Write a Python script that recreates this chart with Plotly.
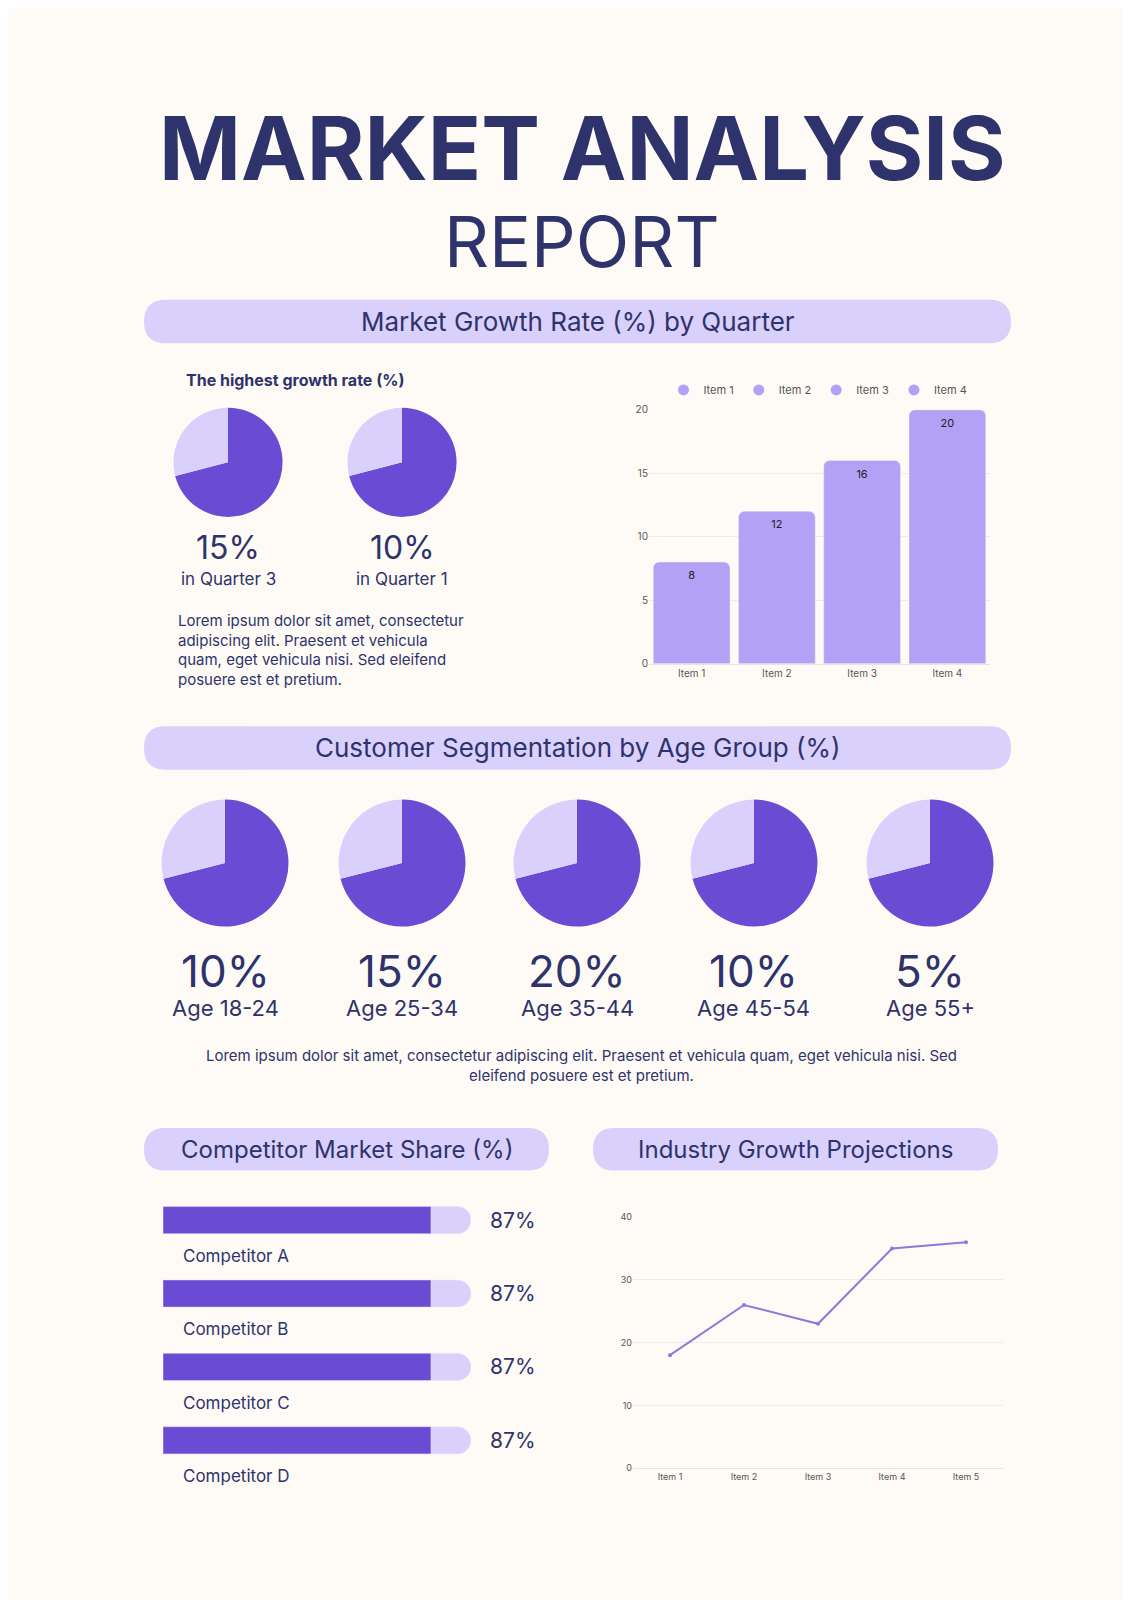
import plotly.graph_objects as go

W, H = 1131, 1600
NAVY = "#2f336b"; DARK = "#6a4bd3"; LIGHT = "#d9d0fc"; BARC = "#b3a1f5"; LINEC = "#8f78da"; BG = "#fefbf6"
FONT = "Inter"

# data
growth_pct = ["15%", "10%"]
growth_lbl = ["in Quarter 3", "in Quarter 1"]
pie_share = [71, 29]
bar_cats = ["Item 1", "Item 2", "Item 3", "Item 4"]
bar_vals = [8, 12, 16, 20]
age_pct = ["10%", "15%", "20%", "10%", "5%"]
age_lbl = ["Age 18-24", "Age 25-34", "Age 35-44", "Age 45-54", "Age 55+"]
comp_names = ["Competitor A", "Competitor B", "Competitor C", "Competitor D"]
comp_vals = [87, 87, 87, 87]
line_cats = ["Item 1", "Item 2", "Item 3", "Item 4", "Item 5"]
line_vals = [18, 26, 23, 35, 36]

def px(x): return x / W
def py(y): return 1 - y / H

fig = go.Figure()

def pie(cx, cy, r):
    fig.add_trace(go.Pie(values=pie_share, marker=dict(colors=[DARK, LIGHT]), sort=False,
                         direction="clockwise", rotation=0, textinfo="none", hoverinfo="skip",
                         showlegend=False,
                         domain=dict(x=[px(cx - r), px(cx + r)], y=[py(cy + r), py(cy - r)])))

for cx in [220, 394]:
    pie(cx, 451, 55)
for cx in [217, 394, 569, 746, 922]:
    pie(cx, 855, 64)

# bar chart
fig.add_trace(go.Bar(x=bar_cats, y=bar_vals, marker=dict(color=BARC, cornerradius=6), text=bar_vals,
                     textposition="inside", insidetextanchor="end", textfont=dict(size=11, color="#222"),
                     width=0.9, showlegend=False, xaxis="x", yaxis="y"))
for c in bar_cats:
    fig.add_trace(go.Scatter(x=[None], y=[None], mode="markers", name=c,
                             marker=dict(size=11, color=BARC), xaxis="x", yaxis="y"))

# competitor bars
fig.add_trace(go.Bar(y=comp_names, x=[100] * 4, orientation="h", marker=dict(color=LIGHT, cornerradius=14),
                     width=0.37, showlegend=False, hoverinfo="skip", xaxis="x2", yaxis="y2"))
fig.add_trace(go.Bar(y=comp_names, x=comp_vals, orientation="h", marker=dict(color=DARK, cornerradius=14),
                     width=0.37, showlegend=False, xaxis="x2", yaxis="y2"))

# line chart
fig.add_trace(go.Scatter(x=line_cats, y=line_vals, mode="lines+markers", line=dict(color=LINEC, width=2),
                         marker=dict(size=4, color=LINEC), showlegend=False, xaxis="x3", yaxis="y3"))

ann = []
def T(x, y, t, s, c=NAVY, xa="center", bold=False, fam=FONT):
    ann.append(dict(x=px(x), y=py(y), xref="paper", yref="paper", text=(f"<b>{t}</b>" if bold else t),
                    showarrow=False, xanchor=xa, yanchor="middle", font=dict(size=s, color=c, family=fam)))

shapes = []
def rounded(x0, x1, y0, y1, r):
    X = lambda v: px(v); Y = lambda v: py(v)
    rx = r / W; ry = r / H
    return (f"M {X(x0)+rx},{Y(y0)} L {X(x1)-rx},{Y(y0)} Q {X(x1)},{Y(y0)} {X(x1)},{Y(y0)-ry} "
            f"L {X(x1)},{Y(y1)+ry} Q {X(x1)},{Y(y1)} {X(x1)-rx},{Y(y1)} L {X(x0)+rx},{Y(y1)} "
            f"Q {X(x0)},{Y(y1)} {X(x0)},{Y(y1)+ry} L {X(x0)},{Y(y0)-ry} Q {X(x0)},{Y(y0)} {X(x0)+rx},{Y(y0)} Z")

def band(x0, x1, y0, y1, text, s=26):
    shapes.append(dict(type="path", xref="paper", yref="paper", fillcolor=LIGHT, line=dict(width=0),
                       path=rounded(x0, x1, y0, y1, (y1 - y0) / 2), layer="below"))
    T((x0 + x1) / 2, (y0 + y1) / 2, text, s)

T(574, 134, "MARKET ANALYSIS", 88, bold=True)
T(574, 228, "REPORT", 70)
band(136, 1003, 287, 331, "Market Growth Rate (%) by Quarter")
band(136, 1003, 717, 761, "Customer Segmentation by Age Group (%)")
band(136, 541, 1122, 1165, "Competitor Market Share (%)", 24)
band(585, 990, 1122, 1165, "Industry Growth Projections", 24)

T(176, 368, "The highest growth rate (%)", 16, xa="left", bold=True)
for cx, p, l in zip([220, 394], growth_pct, growth_lbl):
    T(cx, 537, p, 32)
    T(cx, 569, l, 17)
T(168, 640, "Lorem ipsum dolor sit amet, consectetur<br>adipiscing elit. Praesent et vehicula<br>quam, eget vehicula nisi. Sed eleifend<br>posuere est et pretium.", 15, xa="left")
ann[-1]["align"] = "left"

for cx, p, l in zip([217, 394, 569, 746, 922], age_pct, age_lbl):
    T(cx, 964, p, 44)
    T(cx, 1001, l, 22)
T(573, 1059, "Lorem ipsum dolor sit amet, consectetur adipiscing elit. Praesent et vehicula quam, eget vehicula nisi. Sed<br>eleifend posuere est et pretium.", 15)

for i, (n, v) in enumerate(zip(comp_names, comp_vals)):
    yc = 1215 + i * 74
    T(480, yc, f"{v}%", 21, xa="left")
    T(173, yc + 36, n, 17, xa="left")

ax_font = dict(size=10, color="#555", family=FONT)
fig.update_layout(
    width=W, height=H, margin=dict(l=0, r=0, t=0, b=0), paper_bgcolor=BG, plot_bgcolor=BG,
    font=dict(family=FONT, color=NAVY), annotations=ann, shapes=shapes, barmode="overlay",
    legend=dict(orientation="h", x=px(810), xanchor="center", y=py(378), yanchor="middle",
                font=dict(size=11, color="#555"), bgcolor="rgba(0,0,0,0)", itemwidth=30),
    xaxis=dict(domain=[px(641), px(982)], anchor="y", tickfont=ax_font, showgrid=False, showline=True,
               linecolor="#e5e5e5", ticks=""),
    yaxis=dict(domain=[py(654), py(398)], anchor="x", range=[0, 20], tickvals=[0, 5, 10, 15, 20], tickfont=ax_font,
               gridcolor="#ececec", zeroline=False),
    xaxis2=dict(domain=[px(155), px(463)], anchor="y2", range=[0, 100], visible=False),
    yaxis2=dict(domain=[py(1474), py(1178)], anchor="x2", range=[3.5, -0.5], visible=False),
    xaxis3=dict(domain=[px(625), px(995)], anchor="y3", tickfont=dict(size=9, color="#555"), showgrid=False,
                showline=True, linecolor="#e5e5e5", range=[-0.5, 4.5]),
    yaxis3=dict(domain=[py(1465), py(1212)], anchor="x3", range=[0, 40], tickvals=[0, 10, 20, 30, 40],
                tickfont=dict(size=9, color="#555"), gridcolor="#ececec", zeroline=False),
)
fig.write_html("out.html")
